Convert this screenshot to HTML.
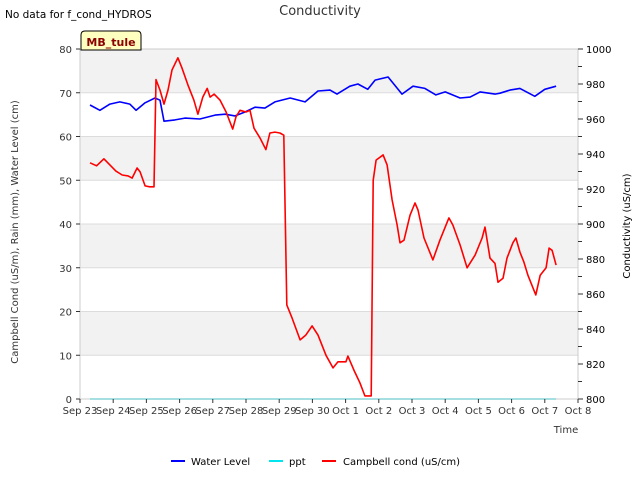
<!DOCTYPE html>
<html><head><meta charset="utf-8"><style>
body{margin:0;background:#fff;font-family:"Liberation Sans","DejaVu Sans",sans-serif}
svg text{font-family:"DejaVu Sans","Liberation Sans",sans-serif}
</style></head><body>
<svg id="chart" width="640" height="480" viewBox="0 0 640 480" xmlns="http://www.w3.org/2000/svg">
<text x="5" y="18" font-size="10.5" fill="#000">No data for f_cond_HYDROS</text>
<text x="320" y="15" font-size="13" text-anchor="middle" fill="#333">Conductivity</text>
<g id="bands"></g>
<g id="grid"></g>
<g id="series"></g>
<rect x="80" y="49" width="498" height="350" fill="none" stroke="#ccc"/>
<g id="axes"></g>
<g>
<path d="M81,50 L81,35 Q81,31 85,31 L137,31 Q141,31 141,35 L141,50 Z" fill="#ffffc0" stroke="#000" stroke-width="1"/>
<text x="111" y="46" font-size="11" font-weight="bold" text-anchor="middle" fill="#8b0000">MB_tule</text>
</g>
<text x="566" y="433" font-size="10" text-anchor="middle" fill="#333">Time</text>
<text transform="translate(18,232) rotate(-90)" font-size="10" text-anchor="middle" fill="#333">Campbell Cond (uS/m), Rain (mm), Water Level (cm)</text>
<text transform="translate(630,226) rotate(-90)" font-size="10" text-anchor="middle" fill="#000">Conductivity (uS/cm)</text>
<g>
<g><line x1="171" y1="461" x2="185" y2="461" stroke="#0000ff" stroke-width="2"/><text x="191" y="465" font-size="10" fill="#000">Water Level</text></g>
<g><line x1="269" y1="461" x2="283" y2="461" stroke="#00e5ee" stroke-width="2"/><text x="289" y="465" font-size="10" fill="#000">ppt</text></g>
<g><line x1="322" y1="461" x2="336" y2="461" stroke="#ff0000" stroke-width="2"/><text x="343" y="465" font-size="10" fill="#000">Campbell cond (uS/cm)</text></g>
</g>
</svg>
<script>
const xTickLabels=["Sep 23","Sep 24","Sep 25","Sep 26","Sep 27","Sep 28","Sep 29","Sep 30","Oct 1","Oct 2","Oct 3","Oct 4","Oct 5","Oct 6","Oct 7","Oct 8"];
const leftTicks=[0,10,20,30,40,50,60,70,80];
const rightTicks=[800,820,840,860,880,900,920,940,960,980,1000];
const redDays=[0.3,0.5,0.72,0.9,1.08,1.27,1.45,1.57,1.72,1.81,1.96,2.1,2.23,2.29,2.41,2.53,2.65,2.77,2.95,3.07,3.25,3.43,3.55,3.7,3.83,3.92,4.04,4.22,4.4,4.6,4.7,4.82,5,5.12,5.24,5.42,5.6,5.72,5.87,6.02,6.14,6.23,6.39,6.63,6.8,6.99,7.17,7.41,7.62,7.77,8.01,8.07,8.25,8.43,8.58,8.77,8.83,8.92,9.13,9.25,9.4,9.55,9.64,9.76,9.94,10.09,10.18,10.36,10.63,10.84,11.11,11.23,11.45,11.66,11.9,12.11,12.2,12.35,12.5,12.59,12.74,12.86,13.04,13.13,13.25,13.37,13.49,13.73,13.86,14.04,14.13,14.22,14.34];
const redVals=[54,53.3,54.9,53.5,52.1,51.2,51,50.5,52.8,51.9,48.7,48.5,48.5,73,70.6,67.4,70.6,75.2,78,75.7,71.8,68.3,65.1,69,71,69,69.7,68.3,65.6,61.7,64.5,66,65.6,66,61.9,59.7,57,60.8,61,60.8,60.3,21.5,18.5,13.5,14.6,16.7,14.6,10,7.1,8.5,8.5,9.8,6.6,3.7,0.7,0.7,50,54.6,55.8,53.5,45.5,39.8,35.7,36.3,42,44.8,43.2,36.8,31.8,36.3,41.4,39.8,35.2,30,32.9,36.8,39.3,32.2,31,26.7,27.6,32.2,35.7,36.8,33.6,31.3,28.3,23.8,28.3,30,34.5,34,30.6];
const blueDays=[0.3,0.6,0.9,1.2,1.5,1.69,1.96,2.26,2.41,2.53,2.86,3.16,3.61,4.07,4.37,4.67,4.97,5.27,5.57,5.87,6.33,6.78,7.17,7.53,7.74,8.13,8.37,8.67,8.89,9.28,9.7,10.03,10.39,10.72,11,11.45,11.75,12.05,12.5,12.65,12.95,13.25,13.7,14,14.34];
const blueVals=[67.2,66,67.4,67.9,67.4,66,67.7,68.8,68.3,63.5,63.8,64.2,64,64.9,65.1,64.7,65.6,66.7,66.5,67.9,68.8,67.9,70.4,70.6,69.7,71.5,72,70.8,72.9,73.6,69.7,71.5,71,69.5,70.2,68.8,69,70.2,69.7,69.9,70.6,71,69.2,70.8,71.5];
const pptDays=[0.3,14.34];
const pptVals=[0,0];
const NS="http://www.w3.org/2000/svg";
const X0=80,X1=578,Y0=399,Y1=49;
const xs=d=>X0+d*(X1-X0)/15;
const yl=v=>Y0-v*(Y0-Y1)/80;
const yr=v=>Y0-(v-800)*(Y0-Y1)/200;
function mk(tag,attrs,parent){const e=document.createElementNS(NS,tag);for(const k in attrs)e.setAttribute(k,attrs[k]);document.getElementById(parent).appendChild(e);return e;}
for(let i=0;i<leftTicks.length-1;i++){if(i%2===1){const b=mk('rect',{x:X0,y:yl(leftTicks[i+1]),width:X1-X0,height:yl(leftTicks[i])-yl(leftTicks[i+1]),fill:'#f2f2f2'},'bands');

}}
leftTicks.forEach(v=>{const l=mk('line',{x1:X0,x2:X1,y1:yl(v),y2:yl(v),stroke:'#dcdcdc'},'grid');


const t=mk('text',{x:X0-8,y:yl(v)+4,'font-size':10,'text-anchor':'end',fill:'#333'},'axes');t.textContent=v;


mk('line',{x1:X0-4,x2:X0,y1:yl(v),y2:yl(v),stroke:'#333'},'axes');});
rightTicks.forEach(v=>{const t=mk('text',{x:X1+8,y:yr(v)+4,'font-size':10,fill:'#000'},'axes');t.textContent=v;

});
for(let v=800;v<=1000;v+=10){mk('line',{x1:X1,x2:X1+(v%20===0?5:4),y1:yr(v),y2:yr(v),stroke:'#333'},'axes');}
xTickLabels.forEach((s,i)=>{mk('line',{x1:xs(i),x2:xs(i),y1:Y0,y2:Y0+4,stroke:'#333'},'axes');
const t=mk('text',{x:xs(i),y:Y0+15,'font-size':10,'text-anchor':'middle',fill:'#333'},'axes');t.textContent=s;

});
function line(days,vals,color,name){const d=days.map((x,i)=>(i?'L':'M')+xs(x).toFixed(1)+','+yl(vals[i]).toFixed(1)).join('');
const p=mk('path',{d:d,fill:'none',stroke:color,'stroke-width':1.6,'stroke-linejoin':'round'},'series');

}
line(pptDays,pptVals,'#00e5ee','ppt-line');
line(blueDays,blueVals,'#0000ff','water-level-line');
line(redDays,redVals,'#ff0000','campbell-cond-line');
</script>
</body></html>
